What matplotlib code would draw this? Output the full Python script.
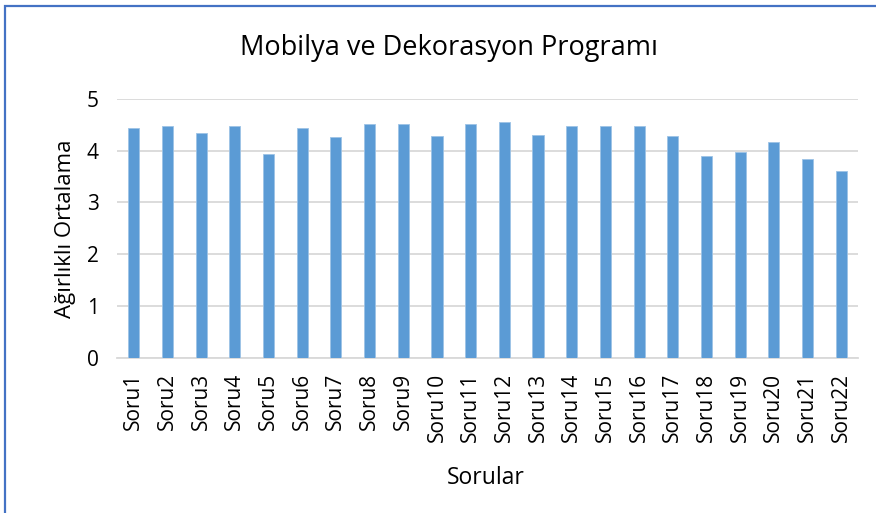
import matplotlib
matplotlib.use('Agg')
import matplotlib.pyplot as plt
from matplotlib.patches import Rectangle

# data
questions = ['Soru%d' % i for i in range(1, 23)]
scores = [4.43, 4.48, 4.34, 4.48, 3.93, 4.43, 4.26, 4.51, 4.51, 4.28, 4.51,
          4.56, 4.31, 4.48, 4.48, 4.48, 4.28, 3.90, 3.98, 4.16, 3.83, 3.61]
y_ticks = [0, 1, 2, 3, 4, 5]

plt.rcParams['font.family'] = ['Open Sans', 'DejaVu Sans']

fig = plt.figure(figsize=(8.76, 5.13), dpi=100)
W, H = 876, 513

# chart frame (blue outline, runs off the right and bottom edges)
frame = Rectangle((5 / W, -0.1), 1.2, 1.1 - 6 / H, transform=fig.transFigure,
                  fill=False, edgecolor='#4472c4', linewidth=1.6, zorder=0)
fig.patches.append(frame)

ax = fig.add_axes([117 / W, 1 - 357.5 / H, (858 - 117) / W, (357.5 - 99) / H])
x = range(len(questions))
ax.bar(x, scores, width=0.33, color='#5b9bd5', edgecolor='#9dc3e6',
       linewidth=0.6, zorder=3)

ax.set_ylim(0, 5)
ax.set_xlim(-0.5, len(questions) - 0.5)
ax.set_yticks(y_ticks)
ax.set_xticks(list(x))
ax.set_xticklabels(questions, rotation=90, fontsize=15)
ax.tick_params(axis='y', labelsize=15, length=0, pad=13)
ax.tick_params(axis='x', length=0, pad=11)
ax.yaxis.grid(True, color='#d9d9d9', linewidth=1.3, zorder=0)
ax.set_axisbelow(True)
for side in ['top', 'right', 'left']:
    ax.spines[side].set_visible(False)
ax.spines['bottom'].set_color('#d9d9d9')
ax.spines['bottom'].set_linewidth(1.3)

ax.set_ylabel('Ağırlıklı Ortalama', fontsize=16, labelpad=8)
fig.text(486 / W, 1 - 478 / H, 'Sorular', fontsize=16.5,
         ha='center', va='center')
fig.text(449 / W, 1 - 48 / H, 'Mobilya ve Dekorasyon Programı', fontsize=19.5,
         ha='center', va='center')

fig.savefig('out.png', dpi=100, facecolor='white')
